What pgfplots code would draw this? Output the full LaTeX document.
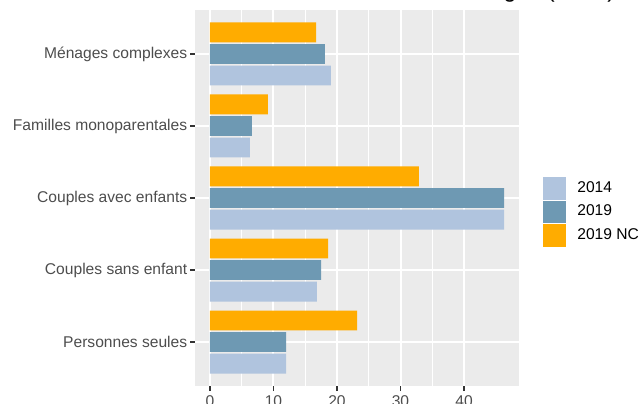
\documentclass[border=0pt]{standalone}
\usepackage{pgfplots}
\pgfplotsset{compat=1.18}
\usepackage{fontspec}
\setmainfont{Liberation Sans}

\definecolor{panel}{HTML}{EBEBEB}
\definecolor{tickcol}{HTML}{333333}
\definecolor{labcol}{HTML}{4D4D4D}
\definecolor{c2014}{HTML}{B0C4DE}
\definecolor{c2019}{HTML}{6E99B3}
\definecolor{cnc}{HTML}{FFAC00}

\newcommand{\txt}{\fontsize{7.8bp}{9bp}\selectfont}

\begin{document}
\begin{tikzpicture}
\useasboundingbox (0,0) rectangle (320bp,202bp);
\begin{axis}[
    at={(97.5bp,9bp)}, anchor=south west,
    width=162bp, height=188bp, scale only axis,
    xbar, bar width=0.275, bar shift=0pt,
    xmin=-2.36, xmax=48.66,
    ymin=0.389, ymax=5.611,
    xtick={0,10,20,30,40},
    minor x tick num=1,
    ytick={1,2,3,4,5},
    yticklabels={Personnes seules,Couples sans enfant,Couples avec enfants,Familles monoparentales,Ménages complexes},
    axis background/.style={fill=panel},
    axis line style={draw=none},
    tick pos=left,
    tick align=outside,
    major tick length=2.5bp,
    minor tick length=0pt,
    tick style={draw=tickcol, line width=0.55bp},
    xmajorgrids, xminorgrids, ymajorgrids,
    major grid style={white, line width=1bp},
    minor grid style={white, line width=0.5bp},
    /pgf/number format/assume math mode=true,
    ticklabel style={font=\txt, text=labcol, inner sep=0pt},
    yticklabel style={xshift=-1.2bp},
    xticklabel style={yshift=-2bp},
    legend image code/.code={\fill[#1] (0bp,-5.6bp) rectangle (11.5bp,5.6bp);
        \path (17bp,0bp);},
    legend style={at={(1.074,0.463)}, anchor=west, draw=none, fill=none,
        inner sep=0pt, row sep=0.6bp, font=\txt, text=black,
        nodes={inner sep=0pt, anchor=west}},
    legend cell align=left,
]
% 2014
\addplot[fill=c2014, draw=none] coordinates {
    (12.0,0.7) (16.85,1.7) (46.3,2.7) (6.3,3.7) (19.05,4.7)};
% 2019
\addplot[fill=c2019, draw=none] coordinates {
    (12.0,1) (17.5,2) (46.3,3) (6.6,4) (18.1,5)};
% 2019 NC
\addplot[fill=cnc, draw=none] coordinates {
    (23.15,1.3) (18.6,2.3) (32.9,3.3) (9.1,4.3) (16.7,5.3)};
\legend{2014,2019,2019 NC}
\end{axis}
\node[anchor=base east, font=\fontsize{11.5bp}{13bp}\selectfont, text=black]
    at (311bp,203.3bp) {Structure des ménages (en \%)};
\end{tikzpicture}
\end{document}
